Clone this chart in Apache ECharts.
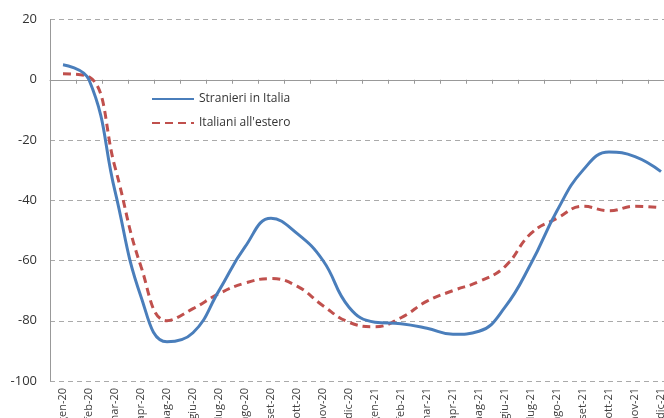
<!DOCTYPE html>
<html>
<head>
<meta charset="utf-8">
<script src="https://cdn.jsdelivr.net/npm/echarts@6/dist/echarts.min.js"></script>
<style>
html,body{margin:0;padding:0;background:#fff;}
#chart{width:664px;height:418px;}
</style>
</head>
<body>
<div id="chart"></div>
<script>
const categories = ['gen-20','feb-20','mar-20','apr-20','mag-20','giu-20','lug-20','ago-20','set-20','ott-20','nov-20','dic-20',
                    'gen-21','feb-21','mar-21','apr-21','mag-21','giu-21','lug-21','ago-21','set-21','ott-21','nov-21','dic-21'];
const stranieri = [5, 0, -37, -72, -87, -84, -70, -55.5, -46, -51, -60, -75.5,
                   -80.5, -81, -82.5, -84.5, -83.5, -75.5, -61, -43.5, -30, -24, -25.5, -30.5];
const italiani = [2, 1, -29, -62, -80, -76, -71, -67.5, -66, -68.5, -75, -80.5,
                  -82, -79, -73.5, -70, -67, -62, -51, -46, -42, -43.5, -42, -42.5];
const yTicks = {min: -100, max: 20, interval: 20};

const chart = echarts.init(document.getElementById('chart'));
chart.setOption({
  animation: false,
  backgroundColor: '#ffffff',
  textStyle: {fontFamily: 'Open Sans, Noto Sans, sans-serif'},
  grid: {left: 50, top: 19.5, right: -10, bottom: 37, outerBoundsMode: 'none', containLabel: false},
  legend: {
    orient: 'vertical',
    left: 146, top: 88,
    itemWidth: 42, itemHeight: 12, itemGap: 12,
    itemStyle: {opacity: 0},
    textStyle: {fontSize: 12, color: '#333', fontFamily: 'Open Sans, Noto Sans, sans-serif'},
    data: ['Stranieri in Italia', "Italiani all'estero"]
  },
  xAxis: {
    type: 'category',
    data: categories,
    boundaryGap: true,
    axisLine: {lineStyle: {color: '#999', width: 1}},
    axisTick: {show: true, length: 4, lineStyle: {color: '#999'}},
    axisLabel: {rotate: 90, fontSize: 11, color: '#404040', margin: 7, interval: 0},
    splitLine: {show: false}
  },
  yAxis: {
    type: 'value',
    min: yTicks.min, max: yTicks.max, interval: yTicks.interval,
    axisLine: {show: true, lineStyle: {color: '#999', width: 1}},
    axisTick: {show: false},
    axisLabel: {fontSize: 13, color: '#333', margin: 13},
    splitLine: {show: true, lineStyle: {color: '#aaa', type: [5, 4], width: 1}}
  },
  series: [
    {
      name: 'Stranieri in Italia', type: 'line', data: stranieri, smooth: 0.45,
      symbol: 'none', lineStyle: {color: '#4a7ebb', width: 3}, itemStyle: {color: '#4a7ebb'}, z: 3
    },
    {
      name: "Italiani all'estero", type: 'line', data: italiani, smooth: 0.45,
      symbol: 'none', lineStyle: {color: '#c0504d', width: 3, type: [8, 5]}, itemStyle: {color: '#c0504d'}, z: 2
    }
  ]
});
</script>
</body>
</html>
